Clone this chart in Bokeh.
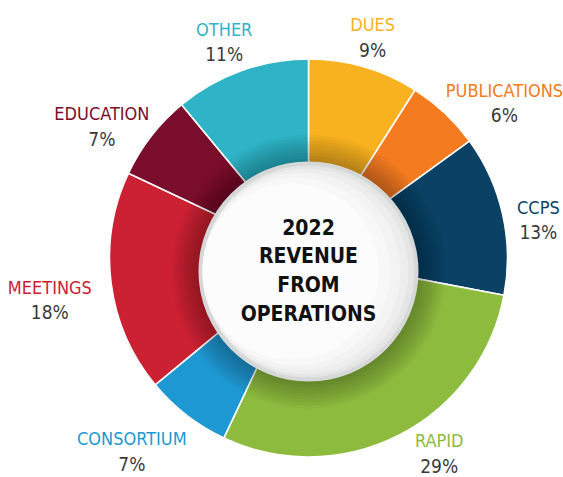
import math
from bokeh.plotting import figure
from bokeh.models import Range1d, ColumnDataSource
from bokeh.core.properties import value
from bokeh.embed import file_html
from bokeh.resources import INLINE

# ---- data ----
categories = ["DUES", "PUBLICATIONS", "CCPS", "RAPID", "CONSORTIUM", "MEETINGS", "EDUCATION", "OTHER"]
shares = [9, 6, 13, 29, 7, 18, 7, 11]
colors = ["#F9B21F", "#F47B20", "#0A4164", "#8DBB3D", "#1E98D3", "#CC2033", "#7B0D2C", "#2EB4C6"]
title_lines = ["2022", "REVENUE", "FROM", "OPERATIONS"]

# ---- layout (screen pixel space of a 563x477 page) ----
W, H = 563, 477
CX, CY = 308, 257.5          # donut centre (screen coords)
R_OUT, R_IN = 199, 90
DX, DY = 308, 271            # white disc centre
R_DISC = 110
label_r = [230, 250, 233, 235, 262, 262, 245, 232]
label_nudge = [0, 8.4, 3.2, -6.8, 4.6, -2.0, -5.3, -1.5]   # degrees
FONT = "'DejaVu Sans Condensed', 'Roboto Condensed', 'Liberation Sans Narrow', Roboto, sans-serif"


def sy(y):
    return H - y


p = figure(width=W, height=H, output_backend="svg", toolbar_location=None,
           x_range=Range1d(0, W), y_range=Range1d(0, H),
           min_border=0, background_fill_color="white", border_fill_color="white")
p.axis.visible = False
p.grid.visible = False
p.outline_line_color = None

total = float(sum(shares))
starts, ends, mids = [], [], []
cum = 0.0
for s in shares:
    a0 = math.pi / 2 - 2 * math.pi * cum / total
    cum += s
    a1 = math.pi / 2 - 2 * math.pi * cum / total
    starts.append(a1)
    ends.append(a0)
    mids.append(360.0 * (cum - s / 2) / total)

src = ColumnDataSource(dict(cat=categories, share=shares, color=colors, start=starts, end=ends))
p.annular_wedge(x=CX, y=sy(CY), inner_radius=R_IN, outer_radius=R_OUT,
                start_angle="start", end_angle="end", direction="anticlock",
                fill_color="color", line_color="white", line_width=1.6, source=src)

# inner shadow on the ring
for k in range(1, 10):
    p.annulus(x=DX, y=sy(DY), inner_radius=R_DISC - 2, outer_radius=R_DISC + 3 * k,
              fill_color="black", fill_alpha=0.033, line_color=None)

# white disc with rim and soft gradient
p.circle(x=DX, y=sy(DY), radius=R_DISC, fill_color="#d6d7d7", line_color=None)
p.circle(x=DX, y=sy(DY), radius=R_DISC - 4, fill_color="#e4e5e5", line_color=None)
p.circle(x=DX - 3, y=sy(DY), radius=R_DISC - 7, fill_color="#ecedec", line_color=None)
p.circle(x=DX - 7, y=sy(DY), radius=R_DISC - 11, fill_color="#f3f3f3", line_color=None)
p.circle(x=DX - 12, y=sy(DY), radius=R_DISC - 16, fill_color="#f8f8f8", line_color=None)
p.circle(x=DX - 18, y=sy(DY), radius=R_DISC - 22, fill_color="#fcfcfc", line_color=None)

# centre title
for i, t in enumerate(title_lines):
    p.text(x=[DX], y=[sy(226 + 29 * i)], text=[t], text_align="center", text_baseline="middle",
           text_font=value(FONT), text_font_style="bold", text_font_size="21px", text_color="#111111")

# labels
for i, cat in enumerate(categories):
    a = math.radians(mids[i] + label_nudge[i])
    lx = CX + label_r[i] * math.sin(a)
    ly = CY - label_r[i] * math.cos(a)
    p.text(x=[lx], y=[sy(ly - 12.5)], text=[cat], text_align="center", text_baseline="middle",
           text_font=value(FONT), text_font_size="18px", text_color=colors[i])
    p.text(x=[lx], y=[sy(ly + 12.5)], text=["%d%%" % shares[i]], text_align="center",
           text_baseline="middle", text_font=value(FONT), text_font_size="19px", text_color="#3a3a3a")

open("out.html", "w").write(file_html(p, INLINE))
